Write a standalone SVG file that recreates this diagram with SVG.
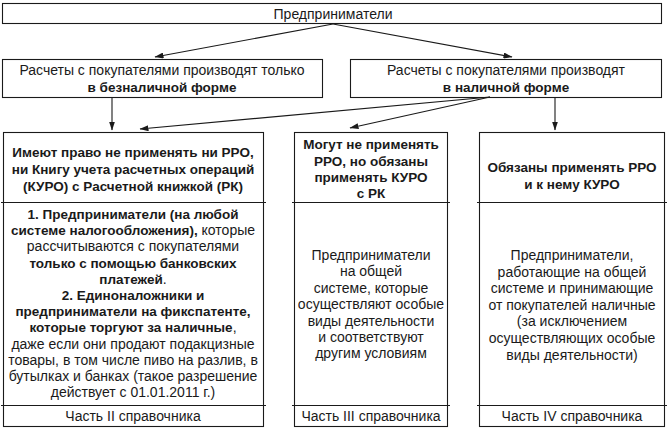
<svg xmlns="http://www.w3.org/2000/svg" width="667" height="429" viewBox="0 0 667 429">
<defs>
<marker id="ah" markerWidth="9" markerHeight="6" refX="8.5" refY="3" orient="auto" markerUnits="userSpaceOnUse">
<path d="M0,0 L9,3 L0,6 Z" fill="#1a1a1a"/>
</marker>
<style>
.box{fill:#fff;stroke:#1a1a1a;stroke-width:1.1}
.ln{stroke:#1a1a1a;stroke-width:1.1;fill:none}
.t{font-family:"Liberation Sans",Arial,sans-serif;font-size:14px;fill:#1a1a1a;text-anchor:middle}
.b{font-weight:bold;font-size:13.5px}
.c{stroke:#1a1a1a;stroke-width:1.1;fill:none;marker-end:url(#ah)}
</style>
</defs>
<rect width="667" height="429" fill="#fff"/>

<g id="top">
<rect class="box" x="2.5" y="3.5" width="659" height="20"/>
<text class="t" x="333" y="18.5">Предприниматели</text>
</g>

<g id="cashless">
<rect class="box" x="2.5" y="59.5" width="320" height="38"/>
<text class="t" x="162" y="75">Расчеты с покупателями производят только</text>
<text class="t b" x="162" y="92">в безналичной форме</text>
</g>

<g id="cash">
<rect class="box" x="350.5" y="59.5" width="311" height="38"/>
<text class="t" x="506" y="75">Расчеты с покупателями производят</text>
<text class="t b" x="506" y="92">в наличной форме</text>
</g>

<g id="col1">
<rect class="box" x="3.5" y="132.5" width="260" height="294"/>
<line class="ln" x1="1" y1="202.5" x2="266" y2="202.5"/>
<line class="ln" x1="1" y1="405.5" x2="266" y2="405.5"/>
<text class="t b" x="133" y="157">Имеют право не применять ни РРО,</text>
<text class="t b" x="133" y="174">ни Книгу учета расчетных операций</text>
<text class="t b" x="133" y="191">(КУРО) с Расчетной книжкой (РК)</text>
<text class="t b" x="133" y="219">1. Предприниматели (на любой</text>
<text class="t" x="133" y="235.2"><tspan class="b">системе налогообложения),</tspan> которые</text>
<text class="t" x="133" y="251.4">рассчитываются с покупателями</text>
<text class="t b" x="133" y="267.6">только с помощью банковских</text>
<text class="t" x="133" y="283.8"><tspan class="b">платежей</tspan>.</text>
<text class="t b" x="133" y="300">2. Единоналожники и</text>
<text class="t b" x="133" y="316.2">предприниматели на фикспатенте,</text>
<text class="t" x="133" y="332.4"><tspan class="b">которые торгуют за наличные</tspan>,</text>
<text class="t" x="133" y="348.6">даже если они продают подакцизные</text>
<text class="t" x="133" y="364.8">товары, в том числе пиво на разлив, в</text>
<text class="t" x="133" y="381">бутылках и банках (такое разрешение</text>
<text class="t" x="133" y="397.2">действует с 01.01.2011 г.)</text>
<text class="t" x="133" y="420.5">Часть II справочника</text>
</g>

<g id="col2">
<rect class="box" x="294.5" y="132.5" width="153" height="294"/>
<line class="ln" x1="292" y1="202.5" x2="450" y2="202.5"/>
<line class="ln" x1="292" y1="405.5" x2="450" y2="405.5"/>
<text class="t b" x="371" y="149">Могут не применять</text>
<text class="t b" x="371" y="166">РРО, но обязаны</text>
<text class="t b" x="371" y="182">применять КУРО</text>
<text class="t b" x="371" y="198">с РК</text>
<text class="t" x="371" y="260">Предприниматели</text>
<text class="t" x="371" y="276.4">на общей</text>
<text class="t" x="371" y="292.8">системе, которые</text>
<text class="t" x="371" y="309.2">осуществляют особые</text>
<text class="t" x="371" y="325.6">виды деятельности</text>
<text class="t" x="371" y="342">и соответствуют</text>
<text class="t" x="371" y="358.4">другим условиям</text>
<text class="t" x="371" y="420.5">Часть III справочника</text>
</g>

<g id="col3">
<rect class="box" x="479.5" y="132.5" width="185" height="294"/>
<line class="ln" x1="477" y1="202.5" x2="667" y2="202.5"/>
<line class="ln" x1="477" y1="405.5" x2="667" y2="405.5"/>
<text class="t b" x="572" y="172">Обязаны применять РРО</text>
<text class="t b" x="572" y="189">и к нему КУРО</text>
<text class="t" x="572" y="260">Предприниматели,</text>
<text class="t" x="572" y="276.6">работающие на общей</text>
<text class="t" x="572" y="293.2">системе и принимающие</text>
<text class="t" x="572" y="309.8">от покупателей наличные</text>
<text class="t" x="572" y="326.4">(за исключением</text>
<text class="t" x="572" y="343">осуществляющих особые</text>
<text class="t" x="572" y="359.6">виды деятельности)</text>
<text class="t" x="572" y="420.5">Часть IV справочника</text>
</g>

<g id="connectors">
<line class="c" x1="333" y1="24" x2="155" y2="57"/>
<line class="c" x1="333" y1="24" x2="512" y2="57"/>
<line class="c" x1="112" y1="98" x2="112" y2="130"/>
<line class="c" x1="555" y1="98" x2="555" y2="130"/>
<line class="c" x1="490" y1="97" x2="140" y2="129"/>
<line class="c" x1="490" y1="97" x2="350" y2="128"/>
</g>
</svg>
